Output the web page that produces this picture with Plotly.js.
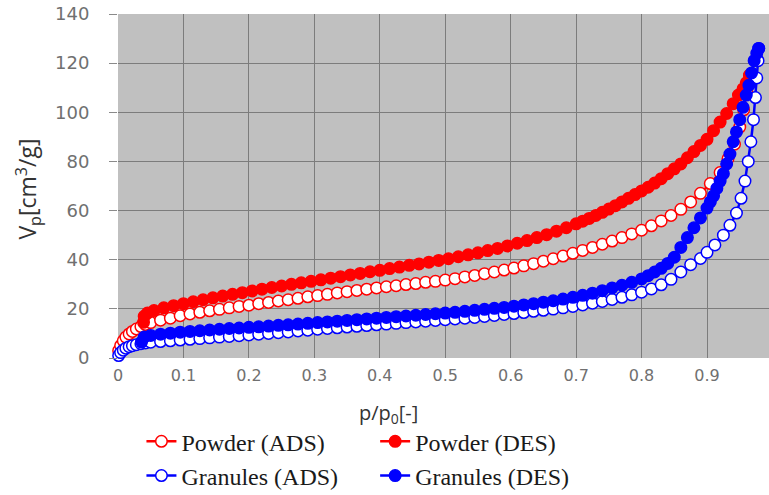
<!DOCTYPE html>
<html>
<head>
<meta charset="utf-8">
<script src="https://cdn.plot.ly/plotly-3.0.1.min.js"></script>
<style>html,body{margin:0;padding:0;background:#fff;}#chart{width:769px;height:495px;}</style>
</head>
<body>
<div id="chart"></div>
<script>
// ---- Data ----
const seriesNames = ["Powder (ADS)", "Powder (DES)", "Granules (ADS)", "Granules (DES)"];
const xTickVals = [0, 0.1, 0.2, 0.3, 0.4, 0.5, 0.6, 0.7, 0.8, 0.9];
const xTickText = ["0", "0.1", "0.2", "0.3", "0.4", "0.5", "0.6", "0.7", "0.8", "0.9"];
const yTickVals = [0, 20, 40, 60, 80, 100, 120, 140];

const powderAdsX = [0.001,0.004,0.008,0.012,0.017,0.022,0.028,0.035,0.042,0.05,0.065,0.08,0.095,0.11,0.125,0.14,0.155,0.17,0.185,0.2,0.215,0.23,0.245,0.26,0.275,0.29,0.305,0.32,0.335,0.35,0.365,0.38,0.395,0.41,0.425,0.44,0.455,0.47,0.485,0.5,0.515,0.53,0.545,0.56,0.575,0.59,0.605,0.62,0.635,0.65,0.665,0.68,0.695,0.71,0.725,0.74,0.755,0.77,0.785,0.8,0.815,0.83,0.845,0.86,0.875,0.89,0.905,0.92,0.932,0.942,0.95,0.956,0.961,0.965];
const powderAdsY = [3,5,7,8.5,9.8,10.8,11.8,12.8,13.6,14.4,15.4,16.2,17.2,17.9,18.6,19.2,19.8,20.4,21,21.5,22.1,22.6,23.2,23.7,24.3,24.9,25.4,25.9,26.5,27,27.5,28,28.5,29,29.4,29.9,30.3,30.8,31.2,31.7,32.3,33,33.6,34.3,35,35.8,36.6,37.5,38.4,39.4,40.4,41.5,42.6,43.8,45,46.3,47.6,49,50.5,52,53.8,55.8,58,60.5,63.5,67,71,75.5,81,87,94,101,108,115];

const powderDesX = [0.965,0.96,0.955,0.948,0.94,0.93,0.92,0.91,0.9,0.89,0.88,0.87,0.86,0.85,0.84,0.83,0.82,0.81,0.8,0.79,0.78,0.77,0.76,0.75,0.74,0.73,0.72,0.71,0.7,0.685,0.67,0.655,0.64,0.625,0.61,0.595,0.58,0.565,0.55,0.535,0.52,0.505,0.49,0.475,0.46,0.445,0.43,0.415,0.4,0.385,0.37,0.355,0.34,0.325,0.31,0.295,0.28,0.265,0.25,0.235,0.22,0.205,0.19,0.175,0.16,0.145,0.13,0.115,0.1,0.085,0.07,0.055,0.045,0.04,0.039];
const powderDesY = [115,112,109.5,107,103.5,99.5,96,92.5,89,86.5,84,81.5,79,77,75,73,71.2,69.5,68,66.5,65,63.5,62,60.6,59.3,58,56.8,55.7,54.6,53,51.6,50.2,49,47.8,46.7,45.6,44.6,43.7,42.8,42,41.2,40.4,39.7,39,38.3,37.7,37,36.4,35.7,35.1,34.4,33.8,33.1,32.5,31.8,31.2,30.6,30,29.3,28.7,28,27.3,26.6,25.9,25.2,24.5,23.7,22.9,22.1,21.3,20.4,19.3,18.3,17,14.5];

const granulesAdsX = [0.001,0.004,0.008,0.012,0.017,0.022,0.028,0.035,0.042,0.05,0.065,0.08,0.095,0.11,0.125,0.14,0.155,0.17,0.185,0.2,0.215,0.23,0.245,0.26,0.275,0.29,0.305,0.32,0.335,0.35,0.365,0.38,0.395,0.41,0.425,0.44,0.455,0.47,0.485,0.5,0.515,0.53,0.545,0.56,0.575,0.59,0.605,0.62,0.635,0.65,0.665,0.68,0.695,0.71,0.725,0.74,0.755,0.77,0.785,0.8,0.815,0.83,0.845,0.86,0.875,0.89,0.9,0.912,0.925,0.935,0.945,0.952,0.958,0.963,0.967,0.971,0.974,0.976,0.978,0.979];
const granulesAdsY = [1,2.2,3.2,4,4.6,5,5.4,5.8,6.1,6.4,6.7,7,7.3,7.6,7.9,8.2,8.5,8.8,9.1,9.4,9.7,10,10.3,10.6,11,11.3,11.7,12,12.3,12.6,12.9,13.2,13.5,13.8,14.1,14.4,14.7,15,15.3,15.6,15.9,16.2,16.5,16.9,17.3,17.7,18.1,18.5,19,19.4,19.9,20.4,21,21.6,22.3,23,23.8,24.7,25.7,26.8,28.1,29.8,32,35,38,40.5,43,46,50,54,59,65,72,80,88,97,106,114,121,126];

const granulesDesX = [0.979,0.976,0.972,0.968,0.964,0.96,0.955,0.95,0.945,0.94,0.935,0.93,0.925,0.92,0.915,0.91,0.905,0.9,0.89,0.88,0.87,0.86,0.85,0.84,0.83,0.82,0.81,0.8,0.785,0.77,0.755,0.74,0.725,0.71,0.695,0.68,0.665,0.65,0.635,0.62,0.605,0.59,0.575,0.56,0.545,0.53,0.515,0.5,0.485,0.47,0.455,0.44,0.425,0.41,0.395,0.38,0.365,0.35,0.335,0.32,0.305,0.29,0.275,0.26,0.245,0.23,0.215,0.2,0.185,0.17,0.155,0.14,0.125,0.11,0.095,0.08,0.065,0.05,0.04,0.036];
const granulesDesY = [126,124,121,116,111,107,102,97,92,88,83,79,75,72,69,66,63.5,61,57,53,49,45,41,38.5,36.5,35,33.5,32.2,30.8,29.6,28.5,27.4,26.4,25.5,24.7,24,23.3,22.7,22.1,21.6,21.1,20.6,20.2,19.8,19.4,19,18.6,18.3,18,17.7,17.4,17.1,16.8,16.5,16.2,15.9,15.6,15.3,15,14.7,14.4,14.1,13.8,13.5,13.3,13,12.7,12.5,12.2,12,11.7,11.4,11.1,10.8,10.5,10.1,9.7,9.2,8.5,6.5];

// ---- Styling ----
const RED = "#ff0000", BLUE = "#0000ff";
function mk(name, x, y, color, open, legendId) {
  return {
    type: "scatter", mode: "lines+markers", name: name, x: x, y: y,
    legend: legendId, cliponaxis: false,
    line: {color: color, width: 2.5},
    marker: {symbol: "circle", size: 11.5,
             color: open ? "#ffffff" : color,
             line: {color: color, width: 1.5}}
  };
}
const traces = [
  mk(seriesNames[0], powderAdsX, powderAdsY, RED, true, "legend"),
  mk(seriesNames[1], powderDesX, powderDesY, RED, false, "legend2"),
  mk(seriesNames[2], granulesAdsX, granulesAdsY, BLUE, true, "legend"),
  mk(seriesNames[3], granulesDesX, granulesDesY, BLUE, false, "legend2")
];

const legendCommon = {
  orientation: "v", bgcolor: "rgba(0,0,0,0)", borderwidth: 0,
  font: {family: "Liberation Serif", size: 24, color: "#1a1a1a"},
  xanchor: "left", yanchor: "top", tracegroupgap: 0
};

const layout = {
  width: 769, height: 495,
  margin: {l: 118, r: 0, t: 14, b: 137, pad: 0, autoexpand: false},
  paper_bgcolor: "#ffffff",
  plot_bgcolor: "#c0c0c0",
  showlegend: true,
  legend: Object.assign({x: 0.036, y: -0.178}, legendCommon),
  legend2: Object.assign({x: 0.395, y: -0.178}, legendCommon),
  xaxis: {
    range: [0, 0.9947], tickvals: xTickVals, ticktext: xTickText,
    showgrid: true, gridcolor: "#7c7c7c", gridwidth: 1,
    zeroline: false, showline: false, ticks: "",
    ticklabelstandoff: 6,
    tickfont: {family: "DejaVu Sans", size: 16, color: "#707070"}
  },
  yaxis: {
    range: [0, 140], tickvals: yTickVals,
    showgrid: true, gridcolor: "#7c7c7c", gridwidth: 1,
    zeroline: false, showline: false,
    ticks: "outside", ticklen: 8, tickcolor: "#8a8a8a", tickwidth: 1,
    ticklabelstandoff: 16,
    tickfont: {family: "DejaVu Sans", size: 18, color: "#707070"}
  },
  annotations: [
    {text: "V<sub>p</sub>[cm<sup>3</sup>/g]", xref: "paper", yref: "paper",
     x: -0.138, y: 0.49, textangle: -90, showarrow: false,
     xanchor: "center", yanchor: "middle",
     font: {family: "Open Sans", size: 23, color: "#333333"}},
    {text: "p/p<sub>0</sub>[-]", xref: "paper", yref: "paper",
     x: 0.416, y: -0.16, showarrow: false,
     xanchor: "center", yanchor: "middle",
     font: {family: "Open Sans", size: 20, color: "#333333"}}
  ]
};

Plotly.newPlot("chart", traces, layout, {displayModeBar: false, staticPlot: true});
</script>
</body>
</html>
